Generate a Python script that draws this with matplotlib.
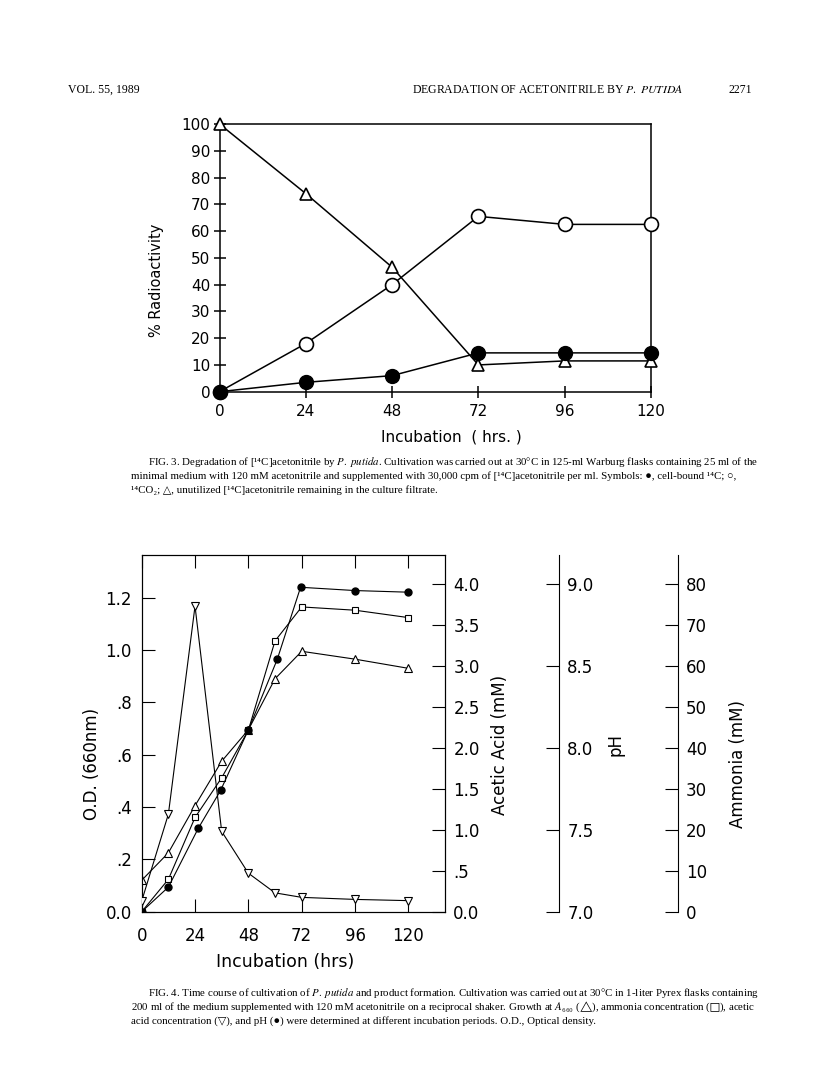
import matplotlib
matplotlib.use('Agg')
import matplotlib.pyplot as plt
import numpy as np

plt.rcParams['mathtext.fontset'] = 'stix'

# ---- Fig. 3 data: % radioactivity vs incubation (hrs)
hours3 = [0, 24, 48, 72, 96, 120]
cell_bound = [0, 3.5, 6, 14.5, 14.5, 14.5]          # filled circles
co2 = [0, 18, 40, 65.5, 62.5, 62.5]                 # open circles
unutilized = [100, 74, 46.5, 10, 11.5, 11.5]        # open triangles

# ---- Fig. 4 data
hours4 = [0, 12, 24, 36, 48, 60, 72, 96, 120]
od660 = [0.12, 0.225, 0.405, 0.575, 0.695, 0.89, 0.995, 0.965, 0.93]     # up triangles
acetic = [0.13, 1.19, 3.73, 0.98, 0.47, 0.23, 0.175, 0.15, 0.135]       # down triangles
ammonia = [0, 7.9, 23.0, 32.7, 44.3, 66.1, 74.4, 73.6, 71.8]            # squares
ph_hours = [0, 12, 25.5, 35.5, 48, 61, 71.5, 96, 120]
ph = [7.0, 7.15, 7.51, 7.74, 8.11, 8.54, 8.98, 8.96, 8.95]              # filled circles

W, H = 816, 1078
fig = plt.figure(figsize=(W / 100, H / 100), dpi=100)


def fx(px):
    return px / W


def fy(py):
    return 1 - py / H


serif = ['Liberation Serif', 'DejaVu Serif']
cap_size = 7.85

# ---- page header
fig.text(fx(68), fy(90), 'VOL. 55, 1989', family=serif, fontsize=8.5, va='center')
fig.text(fx(412), fy(90), r'DEGRADATION OF ACETONITRILE BY $\it{P.\ PUTIDA}$',
         family=serif, fontsize=8.5, va='center')
fig.text(fx(752), fy(90), '2271', family=serif, fontsize=8.5, va='center', ha='right')

# ================= Fig. 3 =================
ax3 = fig.add_axes([fx(219.5), fy(391.7), (651 - 219.5) / W, (391.7 - 124) / H])
ax3.plot(hours3, unutilized, color='black', lw=1.1, marker='^', ms=9,
         mfc='white', mec='black', mew=1.2, clip_on=False, zorder=3)
ax3.plot(hours3, co2, color='black', lw=1.1, marker='o', ms=10,
         mfc='white', mec='black', mew=1.2, clip_on=False, zorder=4)
ax3.plot(hours3, cell_bound, color='black', lw=1.1, marker='o', ms=10,
         mfc='black', mec='black', clip_on=False, zorder=5)
ax3.set_xlim(0, 120)
ax3.set_ylim(0, 100)
ax3.set_xticks(hours3)
ax3.set_yticks(np.arange(0, 101, 10))
ax3.tick_params(direction='inout', length=9, width=1.1, labelsize=11, pad=2)
ax3.tick_params(axis='x', pad=4)
for s in ax3.spines.values():
    s.set_linewidth(1.1)
fig.text(fx(157), fy(280), '% Radioactivity', rotation=90, ha='center', va='center',
         fontsize=10.5)
fig.text(fx(451), fy(437), 'Incubation  ( hrs. )', ha='center', va='center', fontsize=11)

cap3 = [
    (148, 462, r'FIG. 3. Degradation of [¹⁴C]acetonitrile by $\it{P.\ putida}$. Cultivation was carried out at 30°C in 125-ml Warburg flasks containing 25 ml of the'),
    (131, 476, r'minimal medium with 120 mM acetonitrile and supplemented with 30,000 cpm of [¹⁴C]acetonitrile per ml. Symbols: ●, cell-bound ¹⁴C; ○,'),
    (131, 490, r'¹⁴CO₂; △, unutilized [¹⁴C]acetonitrile remaining in the culture filtrate.'),
]
for x, y, t in cap3:
    fig.text(fx(x), fy(y), t, family=serif, fontsize=cap_size, va='center')

# ================= Fig. 4 =================
left, right, bot, top = 141.7, 445, 911.7, 555
ax = fig.add_axes([fx(left), fy(bot), (right - left) / W, (bot - top) / H])
x_max = 136.5
ax.set_xlim(0, x_max)
ax.set_ylim(0, 1.363)
ax.plot(hours4, od660, color='black', lw=0.8, marker='^', ms=6,
        mfc='white', mec='black', mew=0.8, zorder=3)
ax.set_xticks([0, 24, 48, 72, 96, 120])
ax.set_yticks([0, 0.2, 0.4, 0.6, 0.8, 1.0, 1.2])
ax.set_yticklabels(['0.0', '.2', '.4', '.6', '.8', '1.0', '1.2'])
ax.tick_params(direction='in', length=9.5, width=0.8, labelsize=12, right=False, top=True)
ax.tick_params(axis='x', pad=11)
ax.tick_params(axis='y', pad=7)
for s in ax.spines.values():
    s.set_linewidth(0.8)

ax_ac = ax.twinx()
ax_ac.set_ylim(0, 4.354)
ax_ac.plot(hours4, acetic, color='black', lw=0.8, marker='v', ms=6,
           mfc='white', mec='black', mew=0.8, zorder=3)
ax_ac.set_yticks(np.arange(0, 4.01, 0.5))
ax_ac.set_yticklabels(['0.0', '.5', '1.0', '1.5', '2.0', '2.5', '3.0', '3.5', '4.0'])
ax_ac.tick_params(direction='in', length=9.5, width=0.8, labelsize=12, pad=6)
for s in ax_ac.spines.values():
    s.set_linewidth(0.8)

ax_am = ax.twinx()
ax_am.set_ylim(0, 87.08)
ax_am.plot(hours4, ammonia, color='black', lw=0.8, marker='s', ms=4.5,
           mfc='white', mec='black', mew=0.8, zorder=3)
ax_am.spines['right'].set_position(('axes', (677.7 - left) / (right - left)))
ax_am.set_yticks(np.arange(0, 81, 10))
ax_am.tick_params(direction='in', length=9.5, width=0.8, labelsize=12, pad=6)

ax_ph = ax.twinx()
ax_ph.set_ylim(7.0, 9.177)
ax_ph.plot(ph_hours, ph, color='black', lw=0.8, marker='o', ms=5,
           mfc='black', mec='black', zorder=4)
ax_ph.spines['right'].set_position(('axes', (559 - left) / (right - left)))
ax_ph.set_yticks(np.arange(7.0, 9.01, 0.5))
ax_ph.set_yticklabels(['7.0', '7.5', '8.0', '8.5', '9.0'])
ax_ph.tick_params(direction='in', length=9.5, width=0.8, labelsize=12, pad=6)

for a in (ax_am, ax_ph):
    for k in ('top', 'left', 'bottom'):
        a.spines[k].set_visible(False)
    a.spines['right'].set_linewidth(0.8)

fig.text(fx(92), fy(764), 'O.D. (660nm)', rotation=90, ha='center', va='center', fontsize=12)
fig.text(fx(500), fy(745), 'Acetic Acid (mM)', rotation=90, ha='center', va='center', fontsize=12)
fig.text(fx(615), fy(745), 'pH', rotation=90, ha='center', va='center', fontsize=12)
fig.text(fx(738), fy(764), 'Ammonia (mM)', rotation=90, ha='center', va='center', fontsize=12)
fig.text(fx(285), fy(962), 'Incubation (hrs)', ha='center', va='center', fontsize=12.5)

# symbols inside $...$ so that mathtext (stix) draws them in this line
cap4 = [
    (148, 993, r'FIG. 4. Time course of cultivation of $\it{P.\ putida}$ and product formation. Cultivation was carried out at 30°C in 1-liter Pyrex flasks containing'),
    (131, 1007, r'200 ml of the medium supplemented with 120 mM acetonitrile on a reciprocal shaker. Growth at $\it{A}$₆₆₀ ($△$), ammonia concentration ($□$), acetic'),
    (131, 1021, r'acid concentration (▽), and pH (●) were determined at different incubation periods. O.D., Optical density.'),
]
for x, y, t in cap4:
    fig.text(fx(x), fy(y), t, family=serif, fontsize=cap_size, va='center')

fig.savefig('out.png', dpi=100)
